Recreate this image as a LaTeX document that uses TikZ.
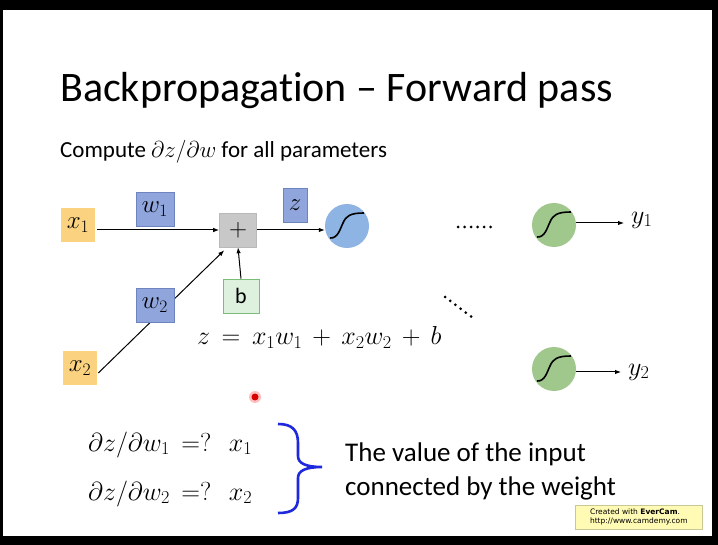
\RequirePackage{fix-cm}
\documentclass[tikz,border=0pt]{standalone}
\usepackage{fontspec}
\setmainfont{Carlito}[Ligatures=NoCommon]
\newfontfamily\wmfont{DejaVu Sans}
\usetikzlibrary{arrows.meta,calc}
\definecolor{orangebox}{RGB}{250,210,128}
\definecolor{bluebox}{RGB}{143,165,220}
\definecolor{blueboxline}{RGB}{110,132,192}
\definecolor{graybox}{RGB}{200,200,200}
\definecolor{grayboxline}{RGB}{185,185,185}
\definecolor{greenbox}{RGB}{222,240,222}
\definecolor{greenboxline}{RGB}{120,190,120}
\definecolor{bluecirc}{RGB}{141,180,226}
\definecolor{greencirc}{RGB}{160,200,140}
\definecolor{bracecol}{RGB}{30,40,220}
\definecolor{wmfill}{RGB}{255,250,180}
\definecolor{wmline}{RGB}{200,200,150}
\newcommand\sigcurve[1]{\draw[sigline] ($(#1)+(-17,12)$) .. controls ($(#1)+(-9,12.5)$) and ($(#1)+(-7,3)$) .. ($(#1)+(-4,-3)$) .. controls ($(#1)+(-1,-10)$) and ($(#1)+(3,-13)$) .. ($(#1)+(17,-13)$);}
\newcommand\widemath{\medmuskip=7mu\relax\thickmuskip=8mu\relax}
\begin{document}
\begin{tikzpicture}[x=1pt,y=-1pt,
  every node/.style={font=\fontsize{22}{26}\selectfont},
  mathfont/.style={font=\fontsize{26}{30}\selectfont\widemath},
  sqbox/.style={minimum height=34pt, inner sep=0pt, line width=0.6pt, font=\fontsize{25}{30}\selectfont},
  inbox/.style={sqbox, fill=orangebox, minimum width=34pt},
  wbox/.style={sqbox, fill=bluebox, draw=blueboxline, minimum width=38pt},
  sumbox/.style={sqbox, fill=graybox, draw=grayboxline, minimum width=37pt},
  biasbox/.style={sqbox, fill=greenbox, draw=greenboxline, minimum width=36pt, font=\fontsize{22}{26}\selectfont},
  neuron/.style={circle, minimum size=44pt, inner sep=0pt},
  sigline/.style={line width=1.6pt, black},
  conn/.style={line width=1pt, -{Latex[length=6pt,width=4.5pt]}},
  dotline/.style={line width=3pt, line cap=round, dash pattern=on 0pt off 6.5pt}
]
\fill[black] (0,0) rectangle (718,545);
\fill[white] (3,10) rectangle (712,536);

% titles
\node[anchor=base west, inner sep=0, font=\fontsize{42}{48}\selectfont] (title) at (60,102) {Backpropagation -- Forward pass};
\node[anchor=base west, inner sep=0, font=\fontsize{23}{28}\selectfont] (sub) at (60,158) {Compute $\partial z/\partial w$ for all parameters};

% nodes
\node[inbox] (x1) at (78,225) {$x_1$};
\node[inbox] (x2) at (80,368) {$x_2$};
\node[wbox] (w1) at (155,209) {$w_1$};
\node[sumbox] (plus) at (238,230) {$+$};
\node[wbox, minimum width=24pt] (z) at (295,205) {$z$};
\node[biasbox] (b) at (241,296) {b};
\node[neuron, fill=bluecirc] (sig) at (347,226) {};
\sigcurve{sig}

\draw[conn, shorten <=2pt] (x1.east |- plus.west) -- (plus.west);
\draw[conn] (plus.east) -- (sig.west |- plus.east);
\draw[conn] (b.north) -- (plus.south);
\coordinate (x2out) at ($(x2.east)+(1,5)$);
\draw[conn] (x2out) -- ($(plus.south west)+(5,3)$);
\node[wbox] (w2) at (155,305) {$w_2$};

\node[anchor=base west, inner sep=0, mathfont] (eq) at (197,345) {$z = x_1w_1 + x_2w_2 + b$};

% right side
\coordinate (hd1) at (458,227);
\coordinate (hd2) at (492,227);
\draw[dotline] (hd1) -- (hd2);
\coordinate (dd1) at (445,297);
\coordinate (dd2) at (473,318);
\draw[dotline] (dd1) -- (dd2);

\node[neuron, fill=greencirc] (g1) at (554,225) {};
\sigcurve{g1}
\node[neuron, fill=greencirc] (g2) at (554,369) {};
\sigcurve{g2}
\node[anchor=west, inner sep=1pt, mathfont] (y1) at (630,220) {$y_1$};
\node[anchor=west, inner sep=1pt, mathfont] (y2) at (627,372) {$y_2$};
\coordinate (a1) at (624,223);
\coordinate (a2) at (621,372);
\draw[conn] (g1.east |- a1) -- (a1);
\draw[conn] (g2.east |- a2) -- (a2);

% cursor dot
\fill[red!25] (255,397) circle (6);
\fill[red!85!black] (255,397) circle (3.5);

% bottom
\node[anchor=base west, inner sep=0, mathfont] (d1) at (88,451) {$\partial z/\partial w_1 \mathrel{=?}\ x_1$};
\node[anchor=base west, inner sep=0, mathfont] (d2) at (88,500) {$\partial z/\partial w_2 \mathrel{=?}\ x_2$};
\draw[bracecol, line width=2.6pt] (278,424) .. controls (292,424) and (298,430) .. (298,443) -- (298,456) .. controls (298,463) and (305,467) .. (322,467) .. controls (305,467) and (298,471) .. (298,478) -- (298,498) .. controls (298,509) and (292,513) .. (278,513);
\node[anchor=base west, inner sep=0, font=\fontsize{27}{32}\selectfont] (t1) at (345,461) {The value of the input};
\node[anchor=base west, inner sep=0, font=\fontsize{27}{32}\selectfont] (t2) at (345,495) {connected by the weight};

% watermark
\node[draw=wmline, fill=wmfill, line width=0.6pt, anchor=north west, minimum width=127pt, minimum height=24pt, inner sep=0pt, align=left, font=\wmfont\fontsize{7.5}{9}\selectfont] (wm) at (575,505) {Created with \textbf{EverCam}.\\http://www.camdemy.com};
\end{tikzpicture}
\end{document}
